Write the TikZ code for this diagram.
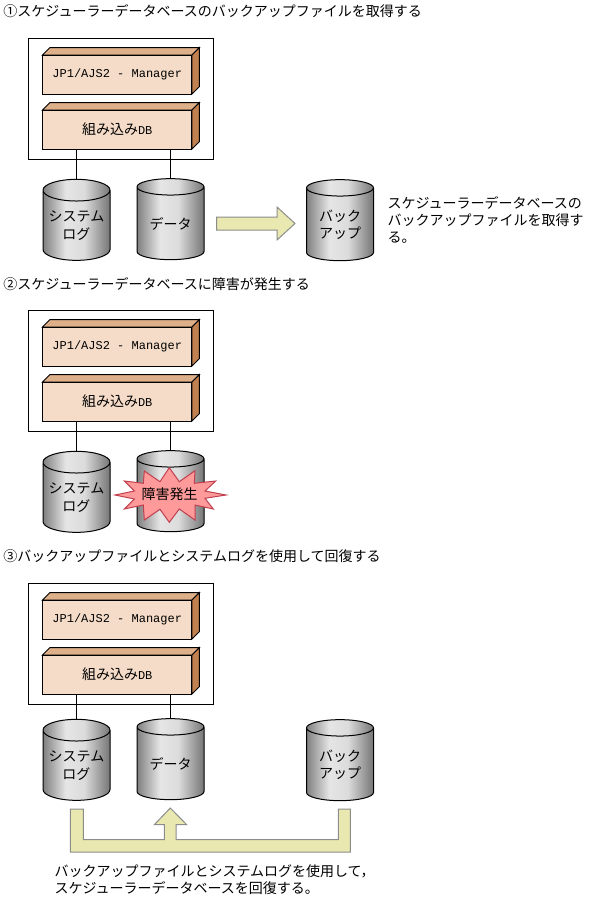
\documentclass[tikz,border=0pt]{standalone}
\usepackage{fontspec}
\setmainfont{Noto Sans CJK JP}
\newfontfamily\latinmono{Liberation Mono}
\usetikzlibrary{positioning,shapes.geometric}

\definecolor{faceskin}{HTML}{F5DCC8}
\definecolor{topskin}{HTML}{DEB08A}
\definecolor{sideskin}{HTML}{C08050}
\definecolor{flowfill}{HTML}{E8E8B0}
\definecolor{burstfill}{HTML}{FF9A9A}
\definecolor{burstline}{HTML}{C04050}
\pgfdeclarehorizontalshading{drumshade}{100bp}{
	color(0bp)=(black!50);
	color(25bp)=(black!50);
	color(42bp)=(black!10);
	color(56bp)=(black!14);
	color(75bp)=(black!54);
	color(100bp)=(black!54)
}

\begin{document}
\begin{tikzpicture}[
	x=0.75pt,
	y=-0.75pt,
	font=\fontsize{10.5}{13}\selectfont,
	line width=0.75pt,
	hostbox/.style={
		draw,
		fill=white,
		minimum width=138.75pt,
		minimum height=90.75pt,
		inner sep=0pt,
		outer sep=0pt,
	},
	block/.style={
		draw,
		fill=faceskin,
		minimum width=112.1pt,
		minimum height=29.25pt,
		inner sep=0pt,
		outer sep=0pt,
		append after command={\pgfextra{\let\blk\tikzlastnode
			\draw[fill=topskin] (\blk.north west) -- ++(7.5,-7.5) -- ++(149.5,0) -- (\blk.north east) -- cycle;
			\draw[fill=sideskin] (\blk.north east) -- ++(7.5,-7.5) -- ++(0,39) -- (\blk.south east) -- cycle;
		}},
	},
	drum/.style={
		cylinder,
		draw,
		shape border rotate=90,
		aspect=0.39,
		shading=drumshade,
		minimum height=60.75pt,
		minimum width=50.25pt,
		inner sep=0pt,
		outer sep=0pt,
		align=center,
	},
	link/.style={line width=0.75pt},
	flow/.style={draw=black!45, fill=flowfill},
	burst/.style={draw=burstline, fill=burstfill},
	heading/.style={anchor=west, inner sep=0pt},
	note/.style={anchor=west, align=left, inner sep=0pt},
]
\useasboundingbox (0,0) rectangle (593,904);

% --- first stage ---
\node[heading] (titleA) at (3,11.5) {①スケジューラーデータベースのバックアップファイルを取得する};
\node[hostbox] (hostA) at (120.5,98.5) {};
\node[block] (mgrA) at (117.25,74.5) {\latinmono\fontsize{9}{11}\selectfont JP1/AJS2 - Manager};
\node[block, below=12pt of mgrA] (dbA) {組み込み{\latinmono\fontsize{9}{11}\selectfont DB}};
\node[drum] (logA) at (76.5,225.5) {システム\\ログ};
\node[drum] (dataA) at (170.5,223.5) {データ};
\node[drum] (backupA) at (340,224.5) {バック\\アップ};
\node[note] (noteA) at (387,220) {スケジューラーデータベースの\\バックアップファイルを取得す\\る。};

\draw[link] (logA.north) -- (logA.north |- dbA.south);
\draw[link] (dataA.north) -- (dataA.north |- dbA.south);
\draw[flow] (216.5,217) -- (277,217) -- (277,207) -- (295,223.5) -- (277,240) -- (277,230) -- (216.5,230) -- cycle;

% --- second stage ---
\node[heading] (titleB) at (3,284.5) {②スケジューラーデータベースに障害が発生する};
\node[hostbox] (hostB) at (120.5,370.5) {};
\node[block] (mgrB) at (117.25,346.5) {\latinmono\fontsize{9}{11}\selectfont JP1/AJS2 - Manager};
\node[block, below=12pt of mgrB] (dbB) {組み込み{\latinmono\fontsize{9}{11}\selectfont DB}};
\node[drum] (logB) at (76.5,497.5) {システム\\ログ};
\node[drum] (dataB) at (170.5,495.5) {\phantom{データ}};

\draw[link] (logB.north) -- (logB.north |- dbB.south);
\draw[link] (dataB.north) -- (dataB.north |- dbB.south);
\draw[burst] (115,495) -- (134.3,491) -- (124.3,481) -- (143.3,483.3) -- (144.3,471) -- (160,481.7)
	-- (169.3,467.7) -- (179.3,481.7) -- (195,470.7) -- (194.3,483.3) -- (215.7,481) -- (205,491)
	-- (226,495) -- (205,498.3) -- (213.3,509) -- (195,505) -- (195,520) -- (179.3,509)
	-- (169.3,522.3) -- (160,509.3) -- (144.3,520) -- (143.3,505) -- (124.3,509) -- (134.3,499) -- cycle;
\node[inner sep=0pt] (faultB) at (169.5,494.5) {障害発生};

% --- third stage ---
\node[heading] (titleC) at (3,556.5) {③バックアップファイルとシステムログを使用して回復する};
\node[hostbox] (hostC) at (120.5,643.5) {};
\node[block] (mgrC) at (117.25,619.5) {\latinmono\fontsize{9}{11}\selectfont JP1/AJS2 - Manager};
\node[block, below=12pt of mgrC] (dbC) {組み込み{\latinmono\fontsize{9}{11}\selectfont DB}};
\node[drum] (logC) at (76.5,765.5) {システム\\ログ};
\node[drum] (dataC) at (170.5,763.5) {データ};
\node[drum] (backupC) at (340,764.5) {バック\\アップ};
\node[note] (noteC) at (54,879.5) {バックアップファイルとシステムログを使用して，\\スケジューラーデータベースを回復する。};

\draw[link] (logC.north) -- (logC.north |- dbC.south);
\draw[link] (dataC.north) -- (dataC.north |- dbC.south);
\draw[flow] (70.3,809) -- (83.3,809) -- (83.3,839.5) -- (164.3,839.5) -- (164.3,824.7) -- (154.3,824.7)
	-- (170.3,808) -- (186.7,824.7) -- (176,824.7) -- (176,839.5) -- (338.3,839.5) -- (338.3,809)
	-- (350.3,809) -- (350.3,852) -- (70.3,852) -- cycle;

\end{tikzpicture}
\end{document}
